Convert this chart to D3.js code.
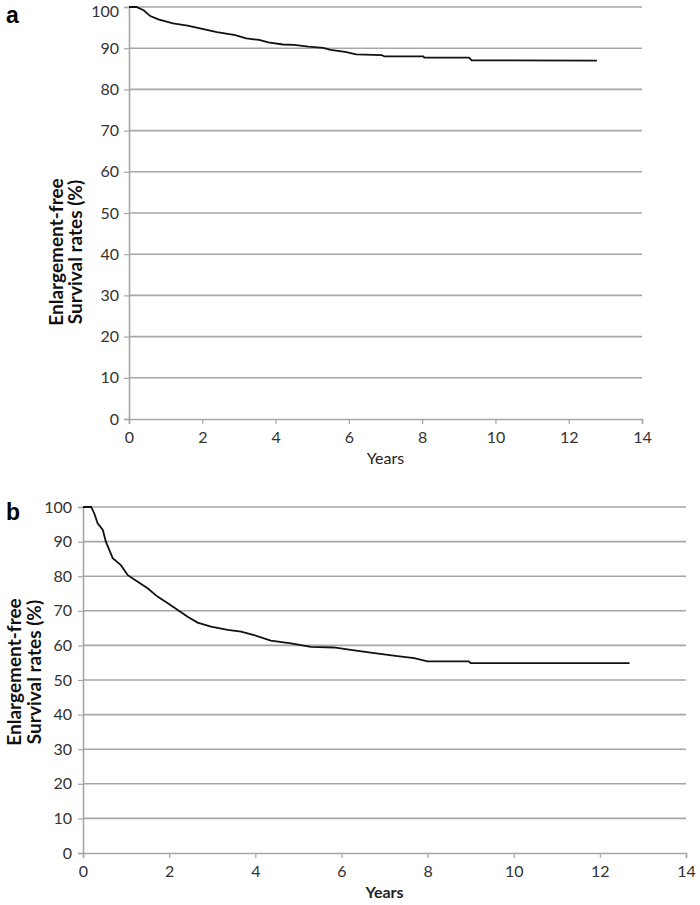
<!DOCTYPE html>
<html><head><meta charset="utf-8">
<script src="https://cdn.jsdelivr.net/npm/d3@7"></script>
<style>body{margin:0;background:#fff}svg{display:block}</style>
</head><body>
<script>
// Panel a data (years, enlargement-free survival %)
const yearsA = [0,0.2,0.4,0.58,0.8,1.2,1.6,2.0,2.4,2.9,3.2,3.55,3.8,4.2,4.5,4.9,5.3,5.5,5.9,6.2,6.9,6.97,8.03,8.06,9.28,9.35,12.77];
const survA  = [100,100,99.2,97.8,97.0,96.0,95.5,94.7,93.9,93.2,92.4,92.0,91.4,90.9,90.8,90.4,90.1,89.6,89.1,88.5,88.3,88.0,88.0,87.7,87.7,87.05,87.0];
// Panel b data
const yearsB = [0,0.19,0.26,0.34,0.46,0.53,0.61,0.69,0.88,1.04,1.27,1.5,1.73,1.97,2.2,2.43,2.66,2.97,3.36,3.67,3.97,4.36,4.83,5.29,5.82,6.22,6.68,7.3,7.69,8.0,8.96,9.0,12.69];
const survB  = [100,100,98.2,95.3,93.4,90.0,87.6,85.2,83.2,80.3,78.4,76.5,74.1,72.2,70.2,68.3,66.6,65.4,64.5,64.0,63.0,61.4,60.6,59.6,59.4,58.7,57.9,56.9,56.3,55.4,55.4,54.9,54.9];
const xTicks = [0,2,4,6,8,10,12,14];
const yTicks = [0,10,20,30,40,50,60,70,80,90,100];
const panelLabels = ["a","b"];
const yTitle = ["Enlargement-free","Survival rates (%)"];
const xTitle = "Years";

const svg = d3.select("body").append("svg").attr("width",700).attr("height",905);

function panel(cfg){
  const x = d3.scaleLinear().domain([0,14]).range([cfg.x0,cfg.x1]);
  const y = d3.scaleLinear().domain([0,100]).range([cfg.y0,cfg.y1]);
  const g = svg.append("g");
  g.selectAll("line.grid").data(yTicks.filter(d=>d>0)).join("line")
    .attr("x1",cfg.x0).attr("x2",cfg.x1).attr("y1",d=>y(d)).attr("y2",d=>y(d))
    .attr("stroke","#a6a6a6").attr("stroke-width",1.6);
  const ya = g.append("g").attr("transform",`translate(${cfg.x0},0)`)
    .call(d3.axisLeft(y).tickValues(yTicks).tickSize(5).tickPadding(cfg.yPad));
  const xa = g.append("g").attr("transform",`translate(0,${cfg.y0})`)
    .call(d3.axisBottom(x).tickValues(xTicks).tickSize(5).tickPadding(cfg.xPad));
  [ya,xa].forEach(a=>{
    a.select(".domain").attr("stroke","#a6a6a6").attr("stroke-width",1.6);
    a.selectAll(".tick line").attr("stroke","#a6a6a6").attr("stroke-width",1.2);
    a.selectAll("text").attr("fill","#333").style("font-family","Lato, 'Open Sans', sans-serif")
      .style("font-size",cfg.fs+"px");
  });
  if (cfg.topShift) ya.selectAll(".tick text").filter(d=>d===100).attr("dy","0.62em");
  const data = cfg.t.map((t,i)=>[t,cfg.s[i]]);
  g.append("path").datum(data)
    .attr("d",d3.line().x(d=>x(d[0])).y(d=>y(d[1])))
    .attr("fill","none").attr("stroke","#111").attr("stroke-width",1.8);
  const tg = g.append("text").attr("transform",`translate(${cfg.tx},${cfg.ty}) rotate(-90)`)
    .attr("text-anchor","middle").style("font-family","Lato, 'Open Sans', sans-serif")
    .style("font-weight","bold").style("font-size",cfg.tfs+"px").attr("fill","#111");
  tg.append("tspan").attr("x",0).attr("dy",0).text(yTitle[0]);
  tg.append("tspan").attr("x",0).attr("dy",cfg.tlh).text(yTitle[1]);
  g.append("text").attr("x",(cfg.x0+cfg.x1)/2).attr("y",cfg.xty).attr("text-anchor","middle")
    .style("font-family","Lato, 'Open Sans', sans-serif").style("font-size","16px")
    .style("font-weight",cfg.xtw).attr("fill","#222").text(xTitle);
  g.append("text").attr("x",6).attr("y",cfg.ly).style("font-family","Arial, 'Liberation Sans', sans-serif")
    .style("font-weight","bold").style("font-size","23px").attr("fill","#000").text(cfg.label);
}

panel({x0:129,x1:642,y0:419,y1:7,t:yearsA,s:survA,yPad:5,xPad:8,fs:16,topShift:true,
  tx:63,ty:252,tfs:19,tlh:19,xty:464,xtw:"normal",ly:23,label:panelLabels[0]});
panel({x0:83,x1:686,y0:853,y1:507,t:yearsB,s:survB,yPad:6,xPad:8,fs:16,topShift:false,
  tx:21,ty:672,tfs:19,tlh:20,xty:898,xtw:"bold",ly:520,label:panelLabels[1]});
</script>
</body></html>
